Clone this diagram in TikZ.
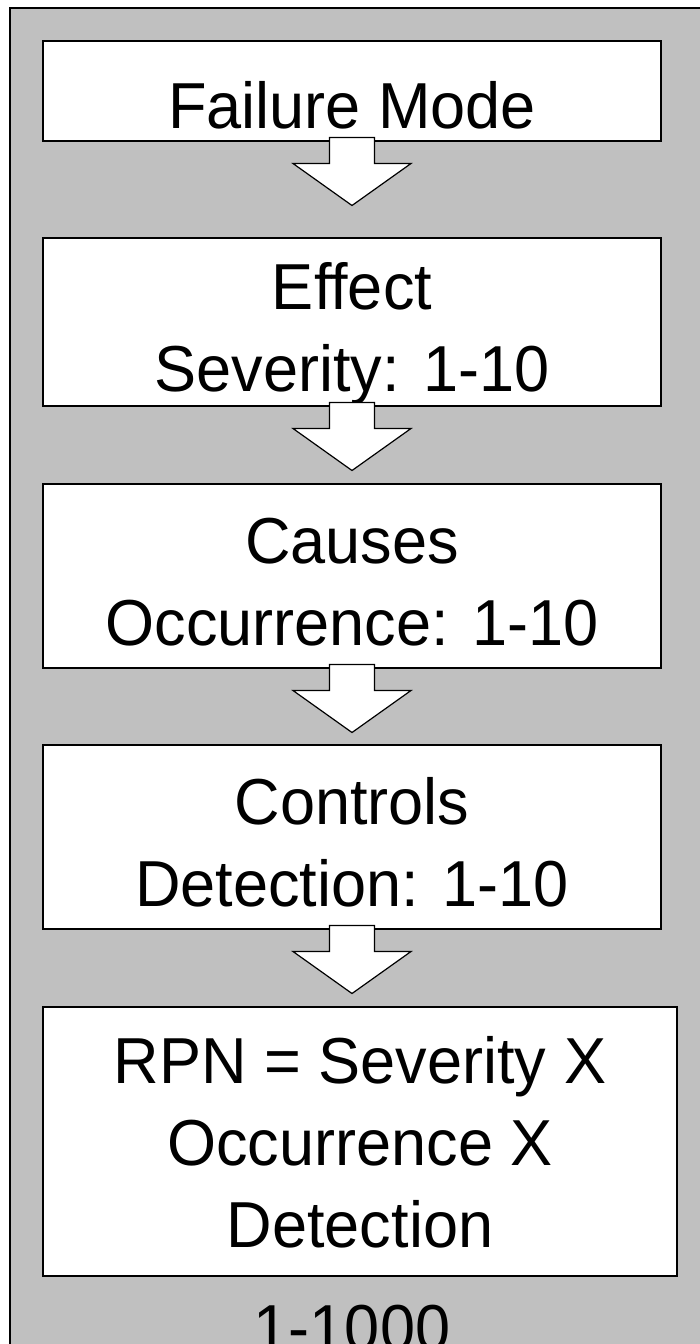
\documentclass[tikz,border=0pt]{standalone}
\usepackage{fontspec}
\setmainfont{Liberation Sans}[FakeStretch=0.97]
\usetikzlibrary{calc}

\definecolor{panel}{HTML}{C0C0C0}

\tikzset{
  stage/.style={draw=black, line width=1.5pt, fill=white, align=center,
    minimum width=618pt, inner sep=0pt, anchor=north,
    font=\fontsize{65}{82}\selectfont},
  flowarrow/.style={draw=black, line width=1.2pt, fill=white, line join=miter},
}

\begin{document}
\begin{tikzpicture}[x=1pt,y=-1pt]
\useasboundingbox (0,0) rectangle (700,1344);
\clip (0,0) rectangle (700,1344);
% grey panel, runs off the right and bottom edges
\draw[fill=panel, line width=1.5pt] (10,8) rectangle (720,1370);

\node[stage, text height=88pt, text depth=12pt] (fm) at (352,40) {Failure Mode};
\node[stage, text height=154pt, text depth=14pt] (eff) at (352,237) {Effect\\Severity: 1-10};
\node[stage, text height=162pt, text depth=22pt] (cau) at (352,483) {Causes\\Occurrence: 1-10};
\node[stage, text height=162pt, text depth=22pt] (con) at (352,744) {Controls\\Detection: 1-10};
\node[stage, minimum width=634pt, text height=241pt, text depth=28pt] (rpn) at (360,1006)
  {RPN = Severity X\\Occurrence X\\Detection};
\node[anchor=base, inner sep=0pt, font=\fontsize{65}{82}\selectfont] (range) at (352,1350) {1-1000};

% block arrows below each stage
\foreach \n in {fm,eff,cau,con}
  \draw[flowarrow] ($(\n.south)+(-22.5,-4)$) -- ++(45,0) -- ++(0,26) -- ++(36.5,0)
    -- ($(\n.south)+(0,64)$) -- ($(\n.south)+(-59,22)$) -- ++(36.5,0) -- cycle;
\end{tikzpicture}
\end{document}
